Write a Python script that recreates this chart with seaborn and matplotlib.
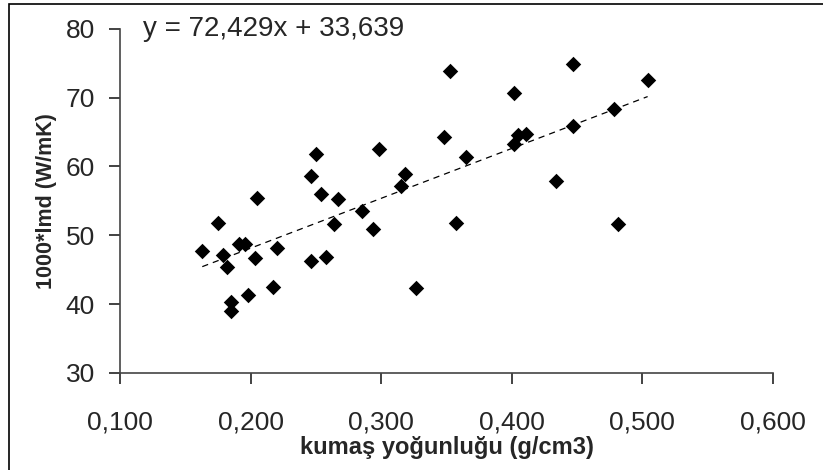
import matplotlib
matplotlib.use("Agg")
import matplotlib.pyplot as plt
import seaborn as sns
import numpy as np
import pandas as pd
from matplotlib.patches import Rectangle

density = [0.163, 0.175, 0.205, 0.191, 0.196, 0.179, 0.182, 0.203, 0.220, 0.217,
           0.198, 0.185, 0.185, 0.353, 0.348, 0.365, 0.250, 0.298, 0.246, 0.318,
           0.315, 0.254, 0.267, 0.285, 0.264, 0.294, 0.357, 0.246, 0.258, 0.327,
           0.447, 0.504, 0.402, 0.478, 0.447, 0.405, 0.411, 0.402, 0.434, 0.481]
conductivity = [47.7, 51.8, 55.4, 48.8, 48.8, 47.1, 45.4, 46.7, 48.2, 42.5,
                41.3, 40.3, 39.0, 73.9, 64.2, 61.3, 61.8, 62.5, 58.6, 58.9,
                57.1, 56.0, 55.2, 53.5, 51.6, 50.9, 51.8, 46.3, 46.9, 42.3,
                74.9, 72.5, 70.6, 68.3, 65.9, 64.5, 64.7, 63.2, 57.9, 51.6]
slope, intercept = 72.429, 33.639
equation = "y = 72,429x + 33,639"
x_ticks = [0.1, 0.2, 0.3, 0.4, 0.5, 0.6]
x_ticklabels = ["0,100", "0,200", "0,300", "0,400", "0,500", "0,600"]
y_ticks = [30, 40, 50, 60, 70, 80]
x_label = "kumaş yoğunluğu (g/cm3)"
y_label = "1000*lmd (W/mK)"

sns.set_style("white")
plt.rcParams['font.family'] = ['Liberation Sans', 'DejaVu Sans']

df = pd.DataFrame({"x": density, "y": conductivity})

fig = plt.figure(figsize=(8.23, 4.70), dpi=100)
ax = fig.add_axes([120/823, 1-373/470, (773-120)/823, (373-28.7)/470])

sns.scatterplot(data=df, x="x", y="y", marker="D", s=62, color="black",
                linewidth=0, ax=ax, zorder=3)

xs = np.array([min(density), max(density)])
ax.plot(xs, slope*xs + intercept, color="black", lw=0.9, ls=(0, (5, 4)), zorder=2)

ax.set_xlim(0.1, 0.6)
ax.set_ylim(30, 80)
ax.set_xticks(x_ticks)
ax.set_xticklabels(x_ticklabels)
ax.set_yticks(y_ticks)
for s in ["top", "right"]:
    ax.spines[s].set_visible(False)
for s in ["left", "bottom"]:
    ax.spines[s].set_color("#444444")
    ax.spines[s].set_linewidth(1.2)
ax.tick_params(axis="x", direction="out", length=8, width=1.2, color="#222222",
               pad=19, labelsize=19, bottom=True)
ax.tick_params(axis="y", direction="out", length=8, width=1.2, color="#222222",
               pad=10, labelsize=19, left=True)
ax.set_xlabel(x_label, fontsize=17, fontweight="bold", labelpad=1)
ax.set_ylabel(y_label, fontsize=15.5, fontweight="bold", labelpad=6)

ax.text(0.1176, 80, equation, fontsize=20, va="center", ha="left")

fig.patches.append(Rectangle((9/823, -0.1), 1.2, 1-4/470+0.1, transform=fig.transFigure,
                             fill=False, edgecolor="black", lw=1.2))

fig.savefig("out.png", dpi=100)
